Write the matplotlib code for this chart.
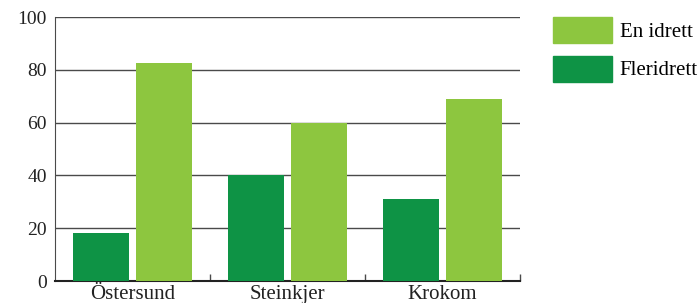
import matplotlib
matplotlib.use("Agg")
import matplotlib.pyplot as plt
import numpy as np
from matplotlib.patches import Patch

categories = ["Östersund", "Steinkjer", "Krokom"]
fleridrett = [18, 40, 31]
en_idrett = [82.5, 60, 69]
yticks = [0, 20, 40, 60, 80, 100]

dark = "#0e9345"
light = "#8dc63f"
grid_c = "#4a4a4a"

plt.rcParams['font.family'] = ['Liberation Serif', 'DejaVu Serif']

fig = plt.figure(figsize=(6.98, 3.03), dpi=100)
ax = fig.add_axes([55/698, 22/303, 465/698, 264/303])

x = np.arange(len(categories))
w = 0.36
gap = 0.045
ax.bar(x - w/2 - gap/2, fleridrett, width=w, color=dark, zorder=3)
ax.bar(x + w/2 + gap/2, en_idrett, width=w, color=light, zorder=3)

ax.set_xlim(-0.5, len(categories) - 0.5)
ax.set_ylim(0, 100)
ax.set_yticks(yticks)
ax.set_yticklabels([str(v) for v in yticks], fontsize=14, color="#222222")
ax.set_xticks(x)
ax.set_xticklabels(categories, fontsize=15, color="#222222")
ax.tick_params(axis='x', length=0, pad=3)
ax.tick_params(axis='y', length=0, pad=6)
ax.set_xticks(np.arange(len(categories)) + 0.5, minor=True)
ax.tick_params(axis='x', which='minor', direction='in', length=5, color=grid_c, width=1)

for v in yticks[1:]:
    ax.axhline(v, color=grid_c, lw=1, zorder=1)

for s in ['top', 'right']:
    ax.spines[s].set_visible(False)
ax.spines['left'].set_color(grid_c)
ax.spines['bottom'].set_color("#222222")
ax.spines['bottom'].set_linewidth(1.5)

handles = [Patch(color=light, label="En idrett"), Patch(color=dark, label="Fleridrett")]
fig.legend(handles=handles, loc='upper left', bbox_to_anchor=(553/698, 1 - 17/303),
           frameon=False, fontsize=15, handlelength=2.85, handleheight=1.55,
           labelspacing=0.6, handletextpad=0.35, borderaxespad=0, borderpad=0)

fig.savefig("out.png", dpi=100)
